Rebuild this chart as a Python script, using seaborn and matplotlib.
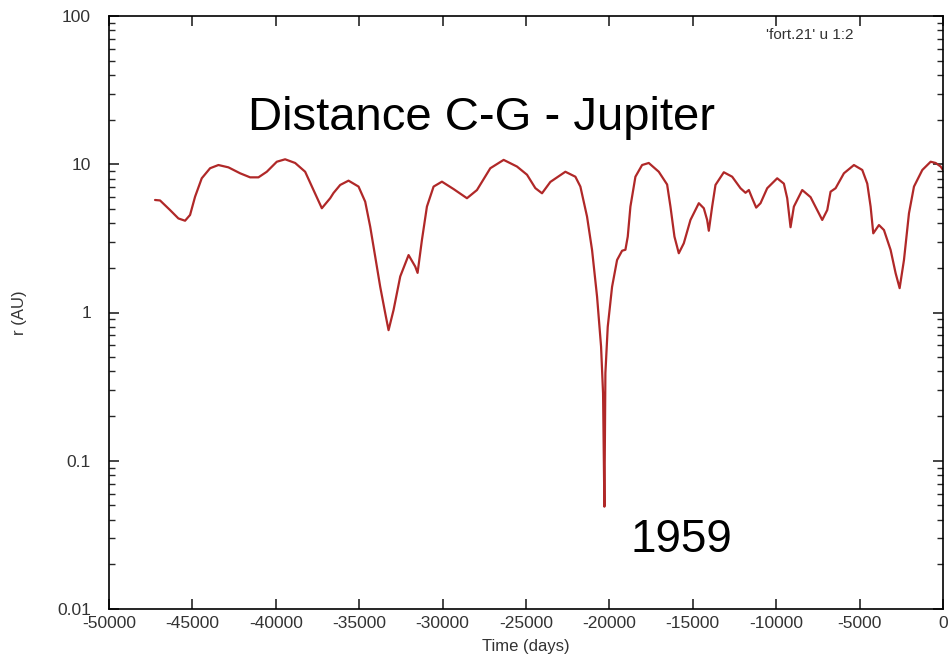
import matplotlib
matplotlib.use("Agg")
import matplotlib.pyplot as plt
import matplotlib.ticker as mticker
import seaborn as sns
import pandas as pd

# Data (time in days, distance in AU)
time_days = [
    -47240, -46940, -46340, -45840, -45440, -45140, -44840, -44440, -43940, -43440,
    -42840, -42140, -41540, -41040, -40540, -39940, -39440, -38840, -38240, -37740,
    -37240, -36740, -36540, -36140, -35640, -35040, -34640, -34340, -34040, -33740,
    -33440, -33240, -32940, -32540, -32040, -31640, -31500, -31240, -30940, -30540,
    -30040, -29340, -28540, -27940, -27140, -26340, -25540, -24940, -24440, -24040,
    -23540, -22640, -22040, -21740, -21340, -21040, -20740, -20500, -20380, -20300,
    -20240, -20100, -19840, -19540, -19240, -19040, -18900, -18740, -18440, -18040,
    -17640, -17040, -16540, -16340, -16100, -15840, -15540, -15140, -14640, -14340,
    -14140, -14040, -13840, -13640, -13140, -12640, -12140, -11840, -11640, -11440,
    -11200, -10940, -10540, -9940, -9540, -9340, -9140, -8940, -8440, -7940,
    -7240, -6940, -6740, -6440, -5940, -5340, -4840, -4540, -4340, -4180,
    -3840, -3540, -3140, -2840, -2600, -2340, -2040, -1740, -1240, -740,
    -440, -140, 0,
]
distance_au = [
    5.74, 5.7, 4.91, 4.31, 4.16, 4.55, 6.04, 8.04, 9.4, 9.88,
    9.53, 8.69, 8.16, 8.16, 8.9, 10.4, 10.8, 10.2, 8.9, 6.7,
    5.05, 5.9, 6.4, 7.25, 7.75, 7.07, 5.59, 3.79, 2.38, 1.49,
    0.99, 0.76, 1.04, 1.75, 2.44, 2.04, 1.85, 3.08, 5.18, 7.07,
    7.63, 6.8, 5.9, 6.7, 9.4, 10.7, 9.65, 8.5, 6.9, 6.37,
    7.6, 8.9, 8.24, 7.07, 4.43, 2.64, 1.28, 0.59, 0.285, 0.049,
    0.39, 0.80, 1.49, 2.26, 2.61, 2.65, 3.25, 5.18, 8.24, 9.88,
    10.2, 8.9, 7.3, 5.18, 3.25, 2.51, 2.93, 4.21, 5.46, 5.05,
    4.21, 3.56, 5.18, 7.25, 8.83, 8.24, 6.89, 6.42, 6.7, 5.9,
    5.1, 5.46, 6.89, 8.04, 7.4, 5.9, 3.76, 5.18, 6.7, 6.0,
    4.21, 4.91, 6.53, 6.89, 8.69, 9.88, 9.15, 7.4, 5.18, 3.42,
    3.89, 3.6, 2.64, 1.84, 1.46, 2.26, 4.67, 7.07, 9.15, 10.4,
    10.2, 9.65, 9.15,
]
x_ticks = [-50000, -45000, -40000, -35000, -30000, -25000, -20000, -15000, -10000, -5000, 0]
y_ticks = [0.01, 0.1, 1, 10, 100]
y_tick_labels = ["0.01", "0.1", "1", "10", "100"]

df = pd.DataFrame({"t": time_days, "r": distance_au})

sns.set_style("ticks")
plt.rcParams["font.family"] = ["Liberation Sans", "DejaVu Sans"]

fig = plt.figure(figsize=(9.5, 6.69), dpi=100)
ax = fig.add_axes([109 / 950, 1 - 609 / 669, (943 - 109) / 950, (609 - 16) / 669])

sns.lineplot(data=df, x="t", y="r", ax=ax, color="#b02828", linewidth=1.6,
             estimator=None, sort=False)

ax.set_yscale("log")
ax.set_xlim(-50000, 0)
ax.set_ylim(0.01, 100)
ax.set_xticks(x_ticks)
ax.set_xticklabels([str(v) for v in x_ticks])
ax.set_yticks(y_ticks)
ax.set_yticklabels(y_tick_labels)
ax.yaxis.set_minor_locator(mticker.LogLocator(base=10, subs=range(2, 10), numticks=20))
ax.yaxis.set_minor_formatter(mticker.NullFormatter())

ax.tick_params(axis="both", which="major", direction="in", length=7, width=1.2,
               top=True, right=True, labelsize=12.5, labelcolor="#333333")
ax.tick_params(axis="x", which="major", pad=5)
ax.tick_params(axis="y", which="major", pad=13)
ax.tick_params(axis="y", which="minor", direction="in", length=4, width=1.0,
               left=True, right=True)
ax.tick_params(axis="x", which="minor", bottom=False, top=False)
for s in ax.spines.values():
    s.set_visible(True)
    s.set_linewidth(1.2)
    s.set_color("black")

ax.set_xlabel("Time (days)", fontsize=12, color="#333333", labelpad=6)
ax.set_ylabel("r (AU)", fontsize=12, color="#333333", labelpad=22)

fig.text(482 / 950, 1 - 118 / 669, "Distance C-G - Jupiter", fontsize=34,
         ha="center", va="center", color="black")
fig.text(681 / 950, 1 - 540 / 669, "1959", fontsize=33, ha="center", va="center",
         color="black")
fig.text(853 / 950, 1 - 35 / 669, "'fort.21' u 1:2", fontsize=11, ha="right",
         va="center", color="#333333")

fig.savefig("out.png", dpi=100)
